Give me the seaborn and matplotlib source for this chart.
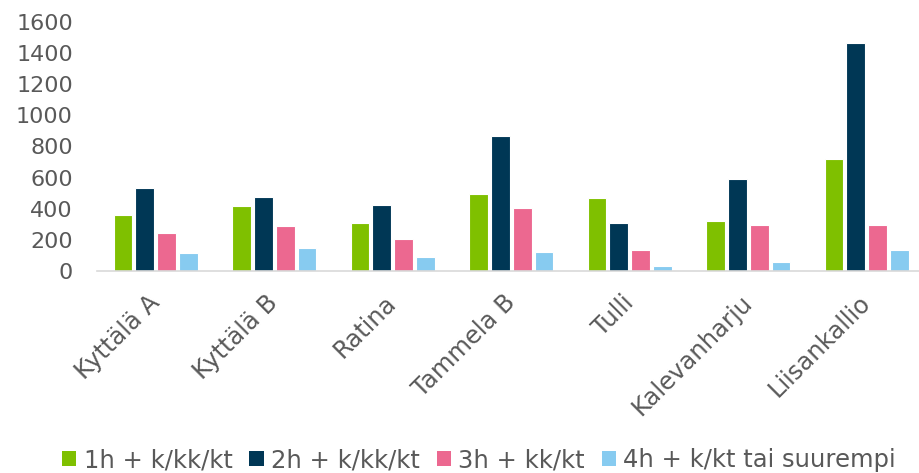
import matplotlib
matplotlib.use("Agg")
import matplotlib.pyplot as plt
import seaborn as sns
import pandas as pd
from matplotlib.patches import Patch

# Asuntojen lukumäärät alueittain huoneistotyypin mukaan
areas = ["Kyttälä A", "Kyttälä B", "Ratina", "Tammela B", "Tulli",
         "Kalevanharju", "Liisankallio"]
series_names = ["1h + k/kk/kt", "2h + k/kk/kt", "3h + kk/kt",
                "4h + k/kt tai suurempi"]
h1 = [360, 416, 309, 495, 467, 322, 718]
h2 = [534, 474, 422, 866, 311, 592, 1464]
h3 = [246, 289, 208, 405, 135, 296, 296]
h4 = [116, 150, 92, 122, 30, 58, 133]
y_ticks = [0, 200, 400, 600, 800, 1000, 1200, 1400, 1600]

colors = ["#7FC000", "#003755", "#EC6890", "#87CBF0"]
text_color = "#595959"

rows = []
for name, vals in zip(series_names, [h1, h2, h3, h4]):
    for area, v in zip(areas, vals):
        rows.append({"alue": area, "tyyppi": name, "lkm": v})
df = pd.DataFrame(rows)

sns.set_theme(style="white")
plt.rcParams["font.family"] = ["DejaVu Sans"]

fig = plt.figure(figsize=(9.19, 4.73), dpi=100)
ax = fig.add_axes([96.5 / 919, 202 / 473, 829.5 / 919, 249.3 / 473])

sns.barplot(data=df, x="alue", y="lkm", hue="tyyppi", order=areas,
            hue_order=series_names, palette=colors, width=0.735, gap=0.14,
            edgecolor="white", linewidth=0.8, saturation=1, ax=ax,
            legend=False)

ax.set_ylim(0, 1600)
ax.set_xlim(-0.5, len(areas) - 0.5)
ax.set_yticks(y_ticks)
ax.set_yticklabels([str(t) for t in y_ticks])
ax.set_xlabel("")
ax.set_ylabel("")
for s in ["top", "right", "left"]:
    ax.spines[s].set_visible(False)
ax.spines["bottom"].set_color("#D9D9D9")
ax.spines["bottom"].set_linewidth(1.2)
ax.tick_params(axis="y", length=0, pad=17, labelsize=16, labelcolor=text_color)
ax.tick_params(axis="x", length=0, pad=20, labelsize=17.5, labelcolor=text_color)
for lbl in ax.get_xticklabels():
    lbl.set_rotation(45)
    lbl.set_ha("right")
    lbl.set_va("center")
    lbl.set_rotation_mode("anchor")

handles = [Patch(facecolor=c, edgecolor="none") for c in colors]
fig.legend(handles, series_names, loc="center", ncol=4,
           bbox_to_anchor=(479 / 919, 13 / 473), frameon=False,
           fontsize=17.5, labelcolor=text_color, handlelength=0.58,
           handleheight=0.58, handletextpad=0.3, columnspacing=0.7,
           borderpad=0, borderaxespad=0)

fig.savefig("out.png", dpi=100)
